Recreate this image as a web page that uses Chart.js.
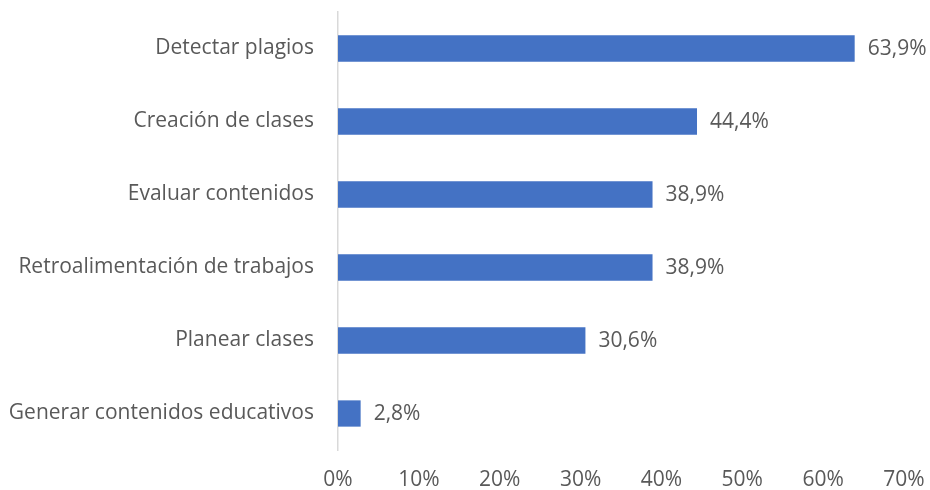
<!DOCTYPE html>
<html>
<head>
<meta charset="utf-8">
<script src="https://cdn.jsdelivr.net/npm/chart.js@4/dist/chart.umd.min.js"></script>
<style>
  html, body { margin: 0; padding: 0; background: #fff; overflow: hidden; }
  canvas { display: block; }
</style>
</head>
<body>
<canvas id="usesChart" width="930" height="490"></canvas>
<script>
const categories = [
  "Detectar plagios",
  "Creación de clases",
  "Evaluar contenidos",
  "Retroalimentación de trabajos",
  "Planear clases",
  "Generar contenidos educativos"
];
const shares = [63.9, 44.4, 38.9, 38.9, 30.6, 2.8];
const tickValues = [0, 10, 20, 30, 40, 50, 60, 70];

const textColor = "#595959";
const fontFamily = "'Open Sans', sans-serif";
const fontSize = 21;

const ctx = document.getElementById("usesChart");

function fmt(v) {
  return v.toFixed(1).replace(".", ",") + "%";
}

// percentage labels to the right of each bar
const valueLabels = {
  id: "valueLabels",
  afterDatasetsDraw(chart) {
    const c = chart.ctx;
    const meta = chart.getDatasetMeta(0);
    c.save();
    c.font = fontSize + "px " + fontFamily;
    c.fillStyle = textColor;
    c.textAlign = "left";
    c.textBaseline = "middle";
    meta.data.forEach((bar, i) => {
      c.fillText(fmt(shares[i]), bar.x + 13, bar.y + 1);
    });
    c.restore();
  }
};

new Chart(ctx, {
  type: "bar",
  data: {
    labels: categories,
    datasets: [
      {
        data: shares,
        backgroundColor: "#4472C4",
        borderWidth: 0,
        categoryPercentage: 1,
        barPercentage: 0.36
      }
    ]
  },
  options: {
    indexAxis: "y",
    responsive: false,
    animation: false,
    layout: { padding: { top: 12, right: 26, bottom: 0, left: 0 } },
    plugins: {
      legend: { display: false },
      tooltip: { enabled: false }
    },
    scales: {
      x: {
        min: 0,
        max: 70,
        afterBuildTicks(scale) {
          scale.ticks = tickValues.map((v) => ({ value: v }));
        },
        afterFit(scale) {
          scale.height = 40;
          scale.paddingLeft = 0;
          scale.paddingRight = 0;
        },
        grid: { display: false, drawTicks: false },
        border: { display: false },
        ticks: {
          color: textColor,
          font: { family: fontFamily, size: fontSize },
          padding: 17,
          callback: (v) => v + "%"
        }
      },
      y: {
        grid: { display: false, drawTicks: false },
        border: { display: true, color: "#d9d9d9", width: 1.5 },
        afterFit(scale) {
          scale.width = 338;
          scale.paddingTop = 0;
          scale.paddingBottom = 0;
        },
        ticks: {
          color: textColor,
          font: { family: fontFamily, size: fontSize },
          padding: 24
        }
      }
    }
  },
  plugins: [valueLabels]
});
</script>
</body>
</html>
